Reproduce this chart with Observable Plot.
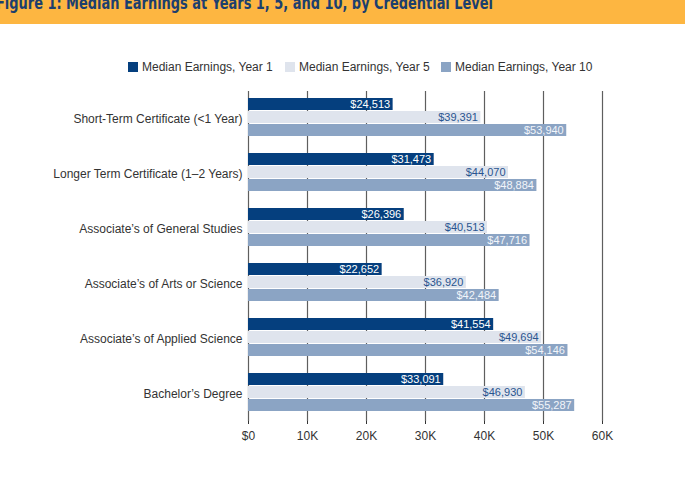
<!DOCTYPE html>
<html>
<head>
<meta charset="utf-8">
<script src="https://cdn.jsdelivr.net/npm/d3@7"></script>
<script src="https://cdn.jsdelivr.net/npm/@observablehq/plot@0.6"></script>
<style>
  body { margin: 0; background: #fff; width: 685px; height: 486px; overflow: hidden; font-family: "Liberation Sans", Arial, sans-serif; }
  #legend { position: relative; height: 56px; }
  .item { position: absolute; top: 36px; display: flex; align-items: center; font-size: 12px; color: #333; white-space: nowrap; }
  .sw { width: 10px; height: 10px; margin-right: 4px; display: inline-block; }
  #chart svg { display: block; }
</style>
</head>
<body>
<svg id="title" width="685" height="24" style="display:block">
  <rect x="0" y="0" width="685" height="24" fill="#FDB641"></rect>
  <text x="-4" y="9" textLength="497" lengthAdjust="spacingAndGlyphs" fill="#1c3f6e" font-weight="bold" font-size="17" font-family="'Liberation Sans Narrow', 'DejaVu Sans Condensed', 'Liberation Sans', sans-serif">Figure 1: Median Earnings at Years 1, 5, and 10, by Credential Level</text>
</svg>
<div id="legend"></div>
<div id="chart"></div>
<script>
const categories = [
  "Short-Term Certificate (<1 Year)",
  "Longer Term Certificate (1–2 Years)",
  "Associate’s of General Studies",
  "Associate’s of Arts or Science",
  "Associate’s of Applied Science",
  "Bachelor’s Degree"
];
const series = ["Median Earnings, Year 1", "Median Earnings, Year 5", "Median Earnings, Year 10"];
const year1 = [24513, 31473, 26396, 22652, 41554, 33091];
const year5 = [39391, 44070, 40513, 36920, 49694, 46930];
const year10 = [53940, 48884, 47716, 42484, 54146, 55287];
const xTicks = [0, 10000, 20000, 30000, 40000, 50000, 60000];
const xTickLabels = ["$0", "10K", "20K", "30K", "40K", "50K", "60K"];

const barColors = ["#053f7e", "#dfe4ed", "#8ba4c4"];
const labelColors = ["#ffffff", "#2a5590", "#f2f5fa"];

const valuesBySeries = [year1, year5, year10];
const rows = categories.flatMap((c, i) =>
  series.map((s, j) => ({cat: c, series: s, value: valuesBySeries[j][i]}))
);

// Legend
const legendLeft = [128, 285, 441];
const legend = document.getElementById("legend");
series.forEach((s, j) => {
  const it = document.createElement("div");
  it.className = "item";
  it.style.left = legendLeft[j] + "px";
  it.innerHTML = `<span class="sw" style="background:${barColors[j]}"></span><span>${s}</span>`;
  legend.appendChild(it);
});

const fmt = d3.format(",");
const chart = Plot.plot({
  width: 685,
  height: 406,
  marginLeft: 248,
  marginRight: 83,
  marginTop: 10,
  marginBottom: 64,
  style: {fontFamily: "'Liberation Sans', Arial, sans-serif", fontSize: "12px", color: "#333", background: "white"},
  facet: {data: rows, y: "cat"},
  fy: {domain: categories, padding: 0, label: null, axis: "left", tickSize: 0, tickPadding: 6},
  y: {domain: series, axis: null, paddingInner: 0.07, paddingOuter: 0.51, align: 0.42},
  x: {domain: [0, 60000], ticks: xTicks, tickFormat: (d) => xTickLabels[xTicks.indexOf(d)], tickSize: 3, tickPadding: 7, label: null},
  color: {domain: series, range: barColors},
  marks: [
    Plot.ruleX(xTicks, {stroke: "#5e5e5e", strokeWidth: 1.2}),
    Plot.barX(rows, {x: "value", y: "series", fill: "series"}),
    ...series.map((s, j) =>
      Plot.text(rows, {
        filter: d => d.series === s,
        x: "value", y: "series",
        text: d => "$" + fmt(d.value),
        textAnchor: "end", dx: -3,
        fill: labelColors[j], fontSize: 11
      })
    )
  ]
});
document.getElementById("chart").appendChild(chart);
</script>
</body>
</html>
